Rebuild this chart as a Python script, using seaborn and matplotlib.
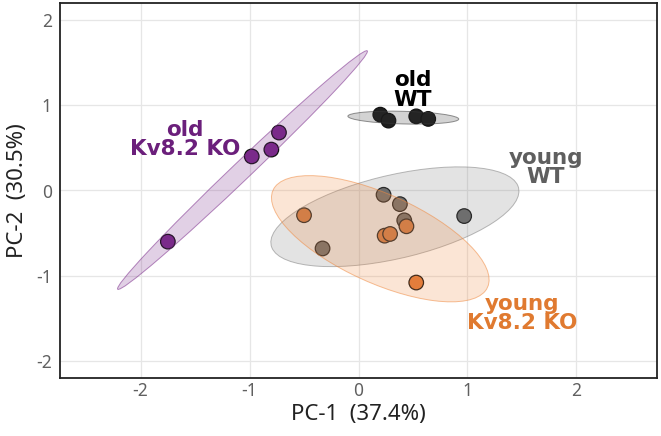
import numpy as np
import pandas as pd
import matplotlib
matplotlib.use("Agg")
import matplotlib.pyplot as plt
from matplotlib.patches import Ellipse
import seaborn as sns

# ---- data ----
groups = ["old Kv8.2 KO", "old WT", "young WT", "young Kv8.2 KO"]
old_ko_pc1 = [-0.73, -0.80, -0.98, -1.75]
old_ko_pc2 = [0.68, 0.48, 0.40, -0.60]
old_wt_pc1 = [0.20, 0.275, 0.53, 0.64]
old_wt_pc2 = [0.89, 0.82, 0.87, 0.84]
young_wt_pc1 = [0.23, 0.38, 0.42, 0.97, -0.33]
young_wt_pc2 = [-0.05, -0.16, -0.35, -0.30, -0.68]
young_ko_pc1 = [-0.50, 0.24, 0.29, 0.44, 0.53]
young_ko_pc2 = [-0.29, -0.53, -0.51, -0.42, -1.08]
x_ticks = [-2, -1, 0, 1, 2]
y_ticks = [-2, -1, 0, 1, 2]

point_colors = {"old Kv8.2 KO": "#7a2a8a", "old WT": "#1e1e1e",
                "young WT": "#6a6a6a", "young Kv8.2 KO": "#e07a3a"}
fill_colors = {"old Kv8.2 KO": "#7a2a8a", "old WT": "#3a3a3a",
               "young WT": "#808080", "young Kv8.2 KO": "#f08a40"}
label_colors = {"old Kv8.2 KO": "#6b1f7b", "old WT": "#000000",
                "young WT": "#5f5f5f", "young Kv8.2 KO": "#e07a30"}
label_text = {"old Kv8.2 KO": "old\nKv8.2 KO", "old WT": "old\nWT",
              "young WT": "young\nWT", "young Kv8.2 KO": "young\nKv8.2 KO"}
label_pos = {"old Kv8.2 KO": (-1.59, 0.60), "old WT": (0.50, 1.18),
             "young WT": (1.72, 0.27), "young Kv8.2 KO": (1.50, -1.44)}

df = pd.concat([
    pd.DataFrame({"PC1": old_ko_pc1, "PC2": old_ko_pc2, "group": "old Kv8.2 KO"}),
    pd.DataFrame({"PC1": old_wt_pc1, "PC2": old_wt_pc2, "group": "old WT"}),
    pd.DataFrame({"PC1": young_wt_pc1, "PC2": young_wt_pc2, "group": "young WT"}),
    pd.DataFrame({"PC1": young_ko_pc1, "PC2": young_ko_pc2, "group": "young Kv8.2 KO"}),
], ignore_index=True)

sns.set_theme(style="white")
plt.rcParams['font.family'] = ['Noto Sans', 'DejaVu Sans']

fig = plt.figure(figsize=(6.61, 4.36), dpi=100)
ax = fig.add_axes([60/661, 58/436, 597/661, 375/436])

sns.scatterplot(data=df, x="PC1", y="PC2", hue="group", palette=point_colors,
                s=110, edgecolor="#111111", linewidth=0.9, legend=False, ax=ax, zorder=3)

# 95% normal confidence ellipses computed from the points
k = np.sqrt(5.991)
for g in groups:
    sub = df[df.group == g]
    xy = sub[["PC1", "PC2"]].to_numpy()
    mu = xy.mean(axis=0)
    cov = np.cov(xy.T)
    vals, vecs = np.linalg.eigh(cov)
    order = vals.argsort()[::-1]
    vals, vecs = vals[order], vecs[:, order]
    ang = np.degrees(np.arctan2(vecs[1, 0], vecs[0, 0]))
    w, h = 2 * k * np.sqrt(vals)
    e = Ellipse(mu, w, h, angle=ang, facecolor=fill_colors[g], alpha=0.22,
                edgecolor="none", zorder=4)
    ax.add_patch(e)
    e2 = Ellipse(mu, w, h, angle=ang, facecolor="none", edgecolor=fill_colors[g],
                 alpha=0.55, linewidth=0.7, zorder=4)
    ax.add_patch(e2)
    tx, ty = label_pos[g]
    ax.text(tx, ty, label_text[g], color=label_colors[g], ha="center", va="center",
            fontsize=15.5, fontweight="bold", linespacing=0.95,
            family=["DejaVu Sans"], zorder=5)

ax.set_xlim(-2.74, 2.74)
ax.set_ylim(-2.2, 2.2)
ax.set_xticks(x_ticks)
ax.set_yticks(y_ticks)
ax.set_xticklabels([str(t) for t in x_ticks])
ax.set_yticklabels([str(t) for t in y_ticks])
ax.grid(True, color="#e6e6e6", linewidth=0.9)
ax.set_axisbelow(True)
ax.tick_params(length=0, labelsize=12.5, colors="#606060")
ax.tick_params(axis="x", pad=3)
ax.tick_params(axis="y", pad=6)
for sp in ax.spines.values():
    sp.set_color("#222222")
    sp.set_linewidth(1.3)
ax.set_xlabel("PC-1  (37.4%)", fontsize=16, color="#222222", labelpad=3)
ax.set_ylabel("PC-2  (30.5%)", fontsize=16, color="#222222", labelpad=6)

fig.savefig("out.png", dpi=100)
